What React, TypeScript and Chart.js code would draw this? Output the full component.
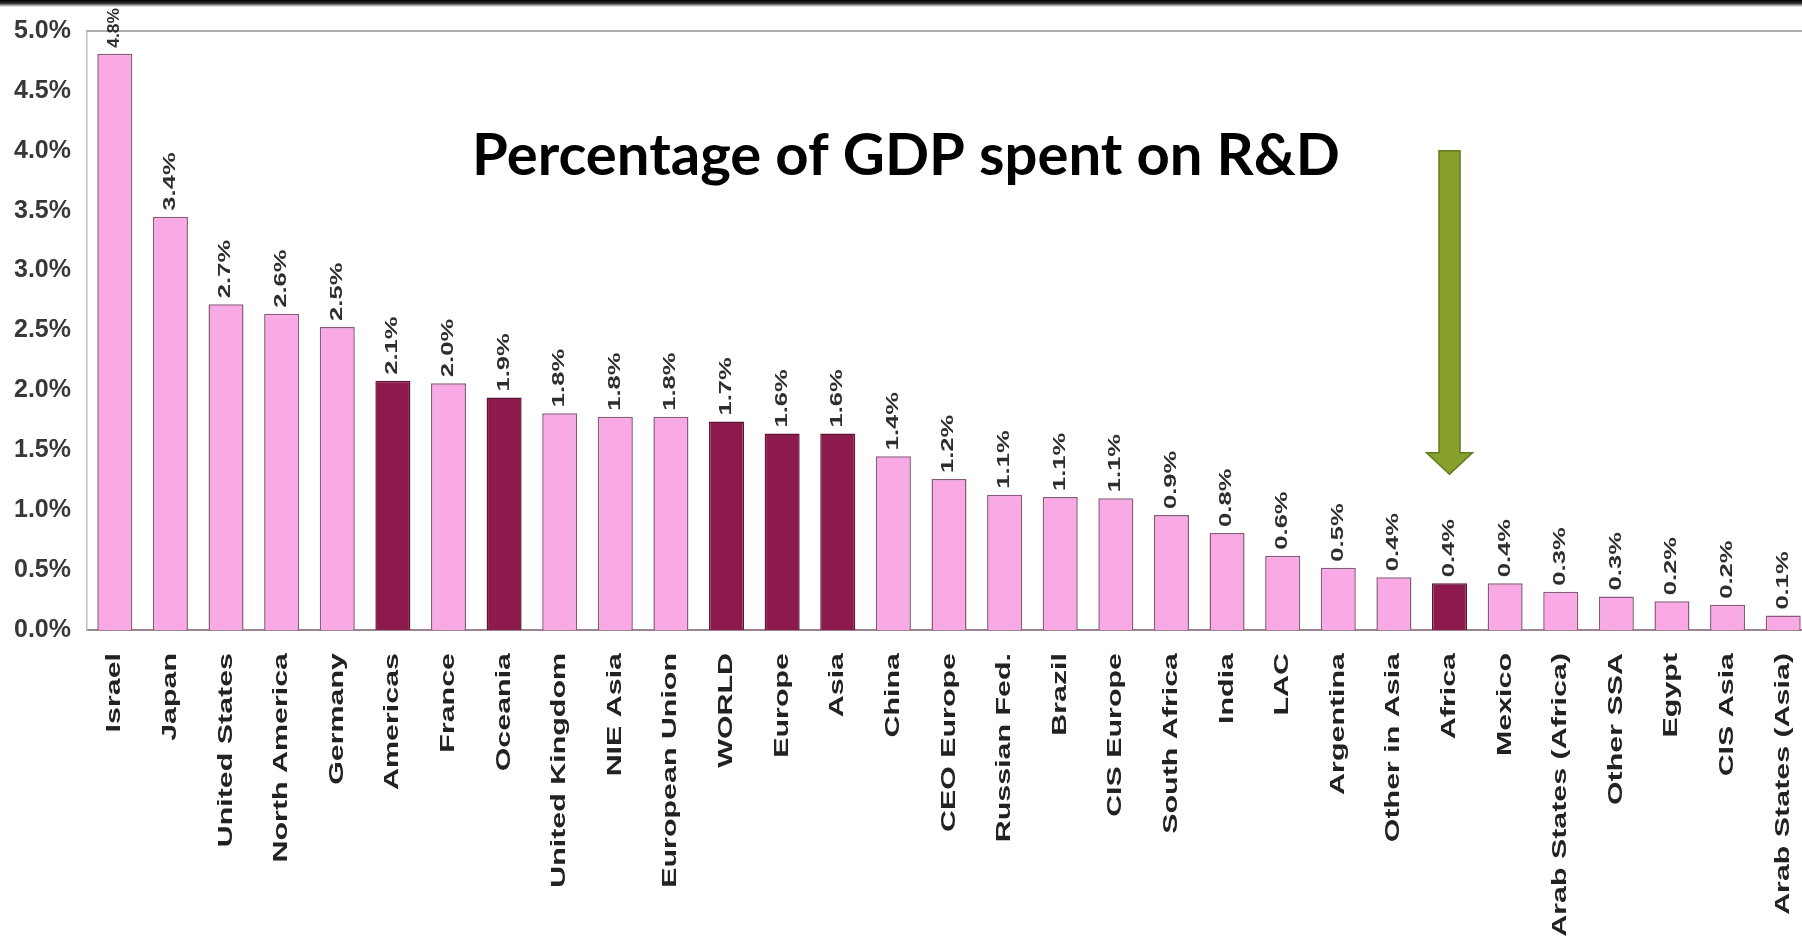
import React, { useEffect, useRef } from "react";
import { Chart, registerables } from "chart.js";

Chart.register(...registerables);

const categories = [
  "Israel", "Japan", "United States", "North America", "Germany", "Americas", "France", "Oceania",
  "United Kingdom", "NIE Asia", "European Union", "WORLD", "Europe", "Asia", "China", "CEO Europe",
  "Russian Fed.", "Brazil", "CIS Europe", "South Africa", "India", "LAC", "Argentina", "Other in Asia",
  "Africa", "Mexico", "Arab States (Africa)", "Other SSA", "Egypt", "CIS Asia", "Arab States (Asia)",
];

const values = [
  4.81, 3.45, 2.72, 2.64, 2.53, 2.08, 2.06, 1.94,
  1.81, 1.78, 1.78, 1.74, 1.64, 1.64, 1.45, 1.26,
  1.13, 1.11, 1.10, 0.96, 0.81, 0.62, 0.52, 0.44,
  0.39, 0.39, 0.32, 0.28, 0.24, 0.21, 0.12,
];

const valueLabels = [
  "4.8%", "3.4%", "2.7%", "2.6%", "2.5%", "2.1%", "2.0%", "1.9%",
  "1.8%", "1.8%", "1.8%", "1.7%", "1.6%", "1.6%", "1.4%", "1.2%",
  "1.1%", "1.1%", "1.1%", "0.9%", "0.8%", "0.6%", "0.5%", "0.4%",
  "0.4%", "0.4%", "0.3%", "0.3%", "0.2%", "0.2%", "0.1%",
];

const highlighted = ["Americas", "Oceania", "WORLD", "Europe", "Asia", "Africa"];

const yMin = 0;
const yMax = 5;
const yStep = 0.5;

const titleText = "Percentage of GDP spent on R&D";

const arrowCategory = "Africa";
const arrowFrom = 4.0;
const arrowHeadBase = 1.48;
const arrowTo = 1.3;

const PINK = "#F9AAE5";
const PINK_BORDER = "#8A5A7C";
const DARK = "#8C1A4C";
const DARK_BORDER = "#5E1434";

export default function App() {
  const ref = useRef<HTMLCanvasElement>(null);

  useEffect(() => {
    const canvas = ref.current!;
    const overlay = {
      id: "overlay",
      afterDraw(chart: any) {
        const ctx = chart.ctx as CanvasRenderingContext2D;
        const area = chart.chartArea;
        const xs = chart.scales.x;
        const ys = chart.scales.y;

        // top frame line
        ctx.save();
        ctx.strokeStyle = "#ababab";
        ctx.lineWidth = 2;
        ctx.beginPath();
        ctx.moveTo(area.left, area.top);
        ctx.lineTo(chart.width, area.top);
        ctx.stroke();
        ctx.restore();

        // value labels (rotated, stretched)
        const meta = chart.getDatasetMeta(0);
        ctx.save();
        ctx.font = "bold 16px 'Liberation Sans'";
        ctx.fillStyle = "#2e2e2e";
        meta.data.forEach((bar: any, i: number) => {
          const txt = valueLabels[i];
          const w = ctx.measureText(txt).width;
          const start = bar.y - 6;
          let stretch = 1.6;
          const avail = start - 8;
          if (w * stretch > avail) stretch = Math.max(0.8, avail / w);
          ctx.save();
          ctx.translate(bar.x, start);
          ctx.rotate(-Math.PI / 2);
          ctx.scale(stretch, 1);
          ctx.textAlign = "left";
          ctx.textBaseline = "middle";
          ctx.fillText(txt, 0, 0);
          ctx.restore();
        });
        ctx.restore();

        // category labels (rotated, stretched)
        ctx.save();
        ctx.font = "bold 20px 'Liberation Sans'";
        ctx.fillStyle = "#222222";
        categories.forEach((c, i) => {
          const x = xs.getPixelForValue(i);
          ctx.save();
          ctx.translate(x, area.bottom + 23);
          ctx.rotate(-Math.PI / 2);
          ctx.scale(1.52, 1);
          ctx.textAlign = "right";
          ctx.textBaseline = "middle";
          ctx.fillText(c, 0, 0);
          ctx.restore();
        });
        ctx.restore();

        // title
        ctx.save();
        ctx.font = "bold 58px Lato";
        ctx.fillStyle = "#000000";
        ctx.textAlign = "center";
        ctx.textBaseline = "alphabetic";
        ctx.fillText(titleText, 906, 175);
        ctx.restore();

        // green arrow pointing at Africa
        const ai = categories.indexOf(arrowCategory);
        const ax = xs.getPixelForValue(ai);
        const yTop = ys.getPixelForValue(arrowFrom);
        const yBase = ys.getPixelForValue(arrowHeadBase);
        const yTip = ys.getPixelForValue(arrowTo);
        const sw = 10.5;
        const hw = 23;
        ctx.save();
        ctx.beginPath();
        ctx.moveTo(ax - sw, yTop);
        ctx.lineTo(ax + sw, yTop);
        ctx.lineTo(ax + sw, yBase);
        ctx.lineTo(ax + hw, yBase);
        ctx.lineTo(ax, yTip);
        ctx.lineTo(ax - hw, yBase);
        ctx.lineTo(ax - sw, yBase);
        ctx.closePath();
        ctx.fillStyle = "#86A02B";
        ctx.fill();
        ctx.strokeStyle = "#627A1D";
        ctx.lineWidth = 1.5;
        ctx.stroke();
        ctx.restore();
      },
    };

    const chart = new Chart(canvas, {
      type: "bar",
      data: {
        labels: categories,
        datasets: [
          {
            data: values,
            backgroundColor: categories.map((c) => (highlighted.includes(c) ? DARK : PINK)),
            borderColor: categories.map((c) => (highlighted.includes(c) ? DARK_BORDER : PINK_BORDER)),
            borderWidth: 1.5,
            barPercentage: 0.63,
            categoryPercentage: 1,
          },
        ],
      },
      options: {
        responsive: false,
        animation: false,
        devicePixelRatio: 1,
        layout: { padding: { top: 30, right: 29, left: 0, bottom: 0 } },
        plugins: {
          legend: { display: false },
          tooltip: { enabled: false },
          title: { display: false },
        },
        scales: {
          x: {
            grid: { display: false, drawTicks: false },
            ticks: { display: false },
            border: { display: true, color: "#9b8593", width: 2 },
            afterFit: (s: any) => {
              s.height = 310;
            },
          },
          y: {
            min: yMin,
            max: yMax,
            ticks: {
              stepSize: yStep,
              callback: (v: any) => Number(v).toFixed(1) + "%",
              font: { family: "'Liberation Sans'", size: 25, weight: "bold" },
              color: "#383838",
              padding: 16,
            },
            grid: { display: false, drawTicks: false },
            border: { display: true, color: "#bdbdbd", width: 1.5 },
            afterFit: (s: any) => {
              s.width = 87;
            },
          },
        },
      },
      plugins: [overlay],
    } as any);
    return () => chart.destroy();
  }, []);

  return (
    <div
      style={{
        position: "fixed",
        left: 0,
        top: 0,
        width: 1802,
        height: 940,
        overflow: "hidden",
        background: "#ffffff",
      }}
    >
      <canvas ref={ref} width={1840} height={940} style={{ display: "block" }} />
      <div
        style={{
          position: "absolute",
          left: 0,
          top: 0,
          width: "100%",
          height: 7,
          background: "linear-gradient(#000000, #2a2a2a 45%, rgba(255,255,255,0))",
        }}
      />
    </div>
  );
}
